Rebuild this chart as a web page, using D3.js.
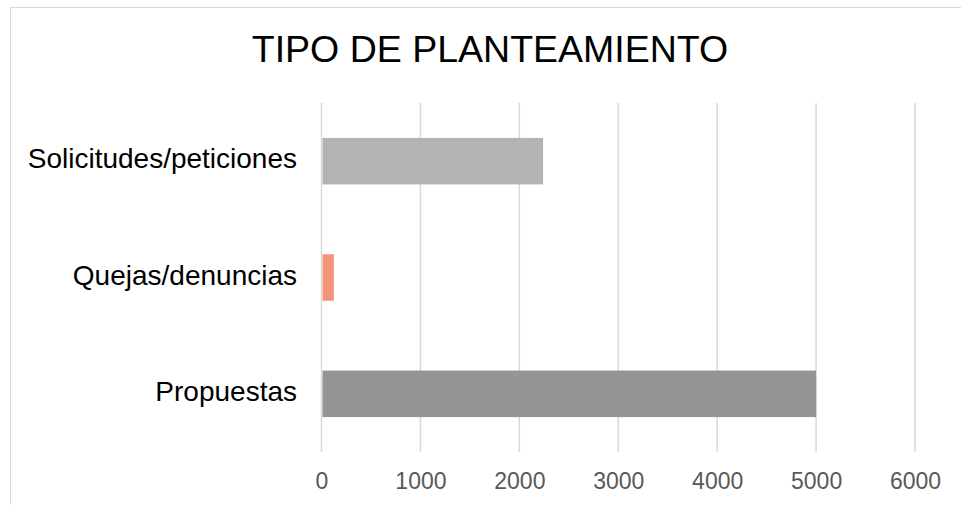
<!DOCTYPE html>
<html>
<head>
<meta charset="utf-8">
<script src="https://cdn.jsdelivr.net/npm/d3@7"></script>
<style>
  body { margin: 0; background: #fff; }
  svg { display: block; font-family: "Liberation Sans", Arial, sans-serif; }
</style>
</head>
<body>
<svg></svg>
<script>
var categories = ["Solicitudes/peticiones", "Quejas/denuncias", "Propuestas"];
var values = [2240, 125, 5000];
var barColors = ["#b3b3b3", "#f4937a", "#959595"];
var tickValues = [0, 1000, 2000, 3000, 4000, 5000, 6000];
var chartTitle = "TIPO DE PLANTEAMIENTO";

var width = { svg: 961 };
var height = { svg: 505 };

var plot = { left: 321.5, right: 915, top: 103, bottom: 452 };

var svg = d3.select("svg")
  .attr("width", width.svg)
  .attr("height", height.svg);

// chart frame (only top and left edges are inside the picture)
svg.append("rect")
  .attr("x", 10.5)
  .attr("y", 7.5)
  .attr("width", 980)
  .attr("height", 520)
  .attr("fill", "none")
  .attr("stroke", "#d9d9d9")
  .attr("stroke-width", 1);

var x = d3.scaleLinear()
  .domain([0, 6000])
  .range([plot.left, plot.right]);

var y = d3.scaleBand()
  .domain(categories)
  .range([plot.top, plot.bottom])
  .paddingInner(0.6)
  .paddingOuter(0.3);

// gridlines
svg.append("g")
  .selectAll("line")
  .data(tickValues)
  .enter()
  .append("line")
  .attr("x1", (d) => x(d))
  .attr("x2", (d) => x(d))
  .attr("y1", plot.top)
  .attr("y2", plot.bottom)
  .attr("stroke", "#d9d9d9")
  .attr("stroke-width", 1.5);

// bars
svg.append("g")
  .selectAll("rect")
  .data(categories)
  .enter()
  .append("rect")
  .attr("x", x(0) + 1)
  .attr("y", (d) => y(d))
  .attr("width", (d, i) => x(values[i]) - x(0) - 1)
  .attr("height", y.bandwidth())
  .attr("fill", (d, i) => barColors[i]);

// x axis labels
var xAxis = d3.axisBottom(x)
  .tickValues(tickValues)
  .tickSize(0)
  .tickPadding(0)
  .tickFormat(d3.format("d"));

var gx = svg.append("g")
  .attr("transform", `translate(0, 481)`)
  .call(xAxis);
gx.select(".domain").remove();
gx.selectAll("text")
  .attr("dy", "0.35em")
  .attr("fill", "#595959")
  .style("font-size", "23px");

// y axis labels
var yAxis = d3.axisLeft(y).tickSize(0).tickPadding(0);
var gy = svg.append("g")
  .attr("transform", `translate(297, 0)`)
  .call(yAxis);
gy.select(".domain").remove();
gy.selectAll("text")
  .attr("dy", "0.26em")
  .attr("fill", "#000")
  .style("font-size", "28px");

// title
svg.append("text")
  .attr("x", 490)
  .attr("y", 62)
  .attr("text-anchor", "middle")
  .attr("fill", "#000")
  .style("font-size", "37.5px")
  .text(chartTitle);
</script>
</body>
</html>
